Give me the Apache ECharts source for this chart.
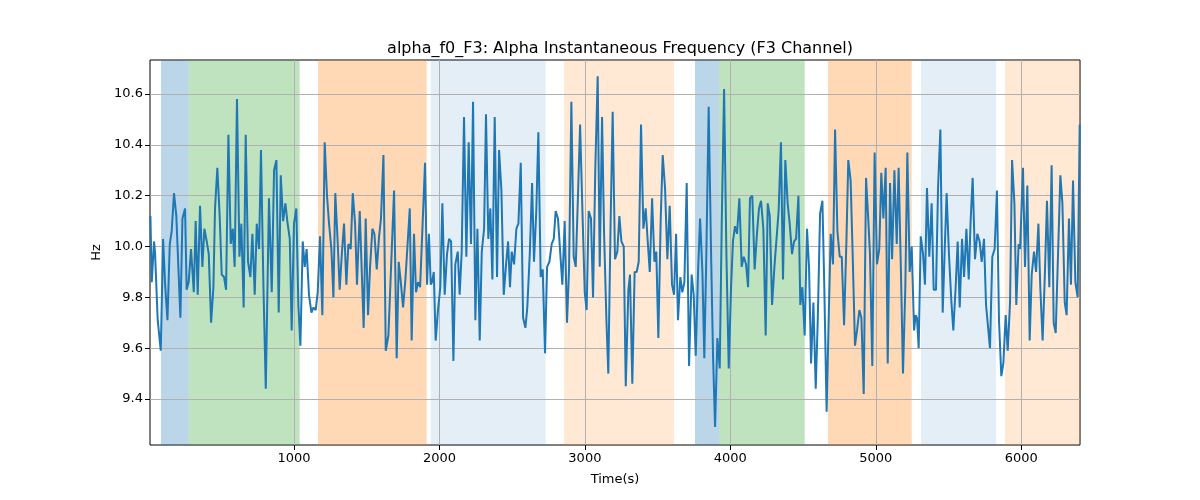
<!DOCTYPE html>
<html>
<head>
<meta charset="utf-8">
<script src="https://cdn.jsdelivr.net/npm/echarts@6/dist/echarts.min.js"></script>
<style>html,body{margin:0;padding:0;background:#fff}#c{width:1200px;height:500px}</style>
</head>
<body>
<div id="c"></div>
<script>
const titleText = 'alpha_f0_F3: Alpha Instantaneous Frequency (F3 Channel)';
const xTicks = [1000, 2000, 3000, 4000, 5000, 6000];
const yTicks = [9.4, 9.6, 9.8, 10.0, 10.2, 10.4, 10.6];

const times = [13,22,38,45,63,84,100,113,130,146,159,175,191,205,219,233,242,251,262,276,292,311,324,338,354,370,384,400,414,430,446,457,473,489,503,519,533,549,565,579,592,608,625,638,654,668,684,700,714,730,744,760,773,790,806,828,
847,863,879,895,909,925,941,954,971,984,1000,1016,1030,1044,1060,1074,1087,1103,1120,1133,1149,1163,1179,1195,1211,1227,1241,1257,1271,1284,1301,1314,1330,1344,1360,1374,1390,1404,1420,1433,1452,1466,1479,1493,1509,1523,1539,1553,1569,1585,1598,1615,1631,1649,
1688,1706,1720,1736,1750,1766,1779,1796,1809,1825,1839,1853,1867,1901,1915,1928,1940,1949,1961,1974,1990,2006,2020,2036,2052,2066,2080,2096,2109,2126,2139,2153,2169,2185,2201,2217,2231,2247,2261,2277,2291,2307,2320,2336,2350,2364,2380,2396,2410,2426,2442,2458,2472,2485,
2497,2513,2529,2543,2559,2575,2591,2604,2621,2637,2650,2666,2680,2696,2710,2726,2740,2756,2772,2786,2799,2815,2831,2845,2861,2877,2891,2907,2923,2937,2953,2967,2983,2999,3012,3026,3042,3056,3072,3088,3102,3118,3132,3148,3161,3177,3191,3207,3223,3237,3251,3267,3281,3299,3310,
3326,3342,3356,3370,3386,3402,3418,3432,3446,3462,3478,3491,3505,3521,3535,3551,3567,3583,3599,3613,3627,3640,3656,3670,3684,3700,3716,3734,3748,3762,3778,3792,3808,3821,3835,3851,3867,3881,3895,3911,3927,3941,3957,3973,3989,4005,4018,4032,4046,4062,4078,4092,4108,4122,4135,
4151,4167,4183,4197,4211,4227,4243,4257,4271,4287,4303,4316,4332,4348,4362,4378,4394,4408,4424,4438,4452,4468,4481,4495,4511,4527,4541,4555,4571,4587,4601,4617,4633,4646,4662,4676,4690,4706,4720,4736,4752,4766,4782,4798,4811,4827,4841,4857,4871,4887,4901,4917,4933,4949,4960,
4976,4992,5008,5024,5038,5052,5068,5082,5098,5112,5128,5144,5157,5173,5187,5203,5217,5233,5247,5263,5274,5283,5295,5309,5325,5338,5352,5368,5384,5398,5414,5428,5444,5460,5474,5487,5503,5520,5533,5549,5563,5577,5593,5607,5623,5639,5652,5666,5682,5698,5714,5728,5744,5758,5774,5785,
5801,5817,5833,5847,5863,5877,5893,5907,5923,5937,5953,5966,5982,5992,6012,6026,6042,6058,6072,6088,6102,6118,6131,6147,6163,6177,6193,6209,6223,6237,6253,6269,6283,6299,6312,6328,6342,6356,6372,6388,6402];

const values = [10.12,9.86,10.02,9.97,9.71,9.59,10.03,9.86,9.71,10.01,10.06,10.21,10.12,9.92,9.72,10.11,10.13,10.15,9.83,9.86,9.99,9.82,10.10,9.81,10.16,9.92,10.07,10.02,9.97,9.70,9.84,10.15,10.31,10.12,9.89,9.88,9.83,10.44,10.01,10.07,9.92,10.58,9.96,10.09,9.76,10.44,9.94,9.88,10.05,9.81,10.09,9.99,10.38,9.84,9.44,10.19,
9.82,10.30,10.34,9.74,10.28,10.10,10.17,10.10,10.03,9.67,10.09,10.15,9.77,9.61,10.02,9.92,9.99,9.81,9.74,9.76,9.75,9.82,10.04,9.73,10.41,10.20,10.09,9.99,9.80,10.21,10.01,9.83,9.98,10.09,9.85,10.01,9.99,10.21,10.09,9.85,10.14,9.90,9.68,10.11,9.73,9.92,10.07,10.05,9.91,10.04,10.11,10.36,9.59,9.65,
10.22,9.56,9.94,9.85,9.76,9.87,9.87,10.15,9.63,10.05,9.82,9.86,9.84,10.33,9.85,10.05,9.85,9.86,9.90,9.63,9.75,9.84,10.17,9.81,9.97,10.03,10.02,9.55,9.93,9.98,9.81,9.98,10.51,9.96,10.41,10.01,10.57,9.71,10.07,9.63,9.98,10.07,10.52,10.03,10.15,9.87,10.51,9.88,10.38,10.22,9.81,9.93,10.02,9.84,
9.98,9.93,10.07,10.09,10.33,9.72,9.68,9.76,9.97,10.25,9.94,10.14,10.45,9.88,9.91,9.58,9.92,9.94,10.01,10.03,10.14,10.11,9.97,9.85,10.10,9.70,9.91,10.57,9.96,9.92,10.21,10.48,10.14,9.82,9.75,10.14,10.11,9.80,10.32,10.67,9.92,10.51,10.05,9.71,9.50,10.10,10.53,9.95,9.98,10.12,10.02,10.00,9.45,9.83,9.89,
9.46,9.90,9.90,9.94,10.48,10.07,10.15,10.02,9.90,10.19,9.94,9.98,9.64,10.10,10.36,10.23,9.95,10.16,9.85,9.81,10.05,9.71,9.88,9.82,9.86,10.25,9.53,9.89,9.81,9.57,9.90,10.11,9.90,9.56,9.97,10.55,9.99,9.57,9.29,9.64,9.52,10.10,10.62,9.97,9.52,9.84,10.02,10.08,10.05,10.19,9.92,9.96,9.93,9.84,10.19,
10.20,9.91,10.05,10.15,10.18,10.07,9.65,10.17,10.12,9.77,9.92,9.92,10.14,10.41,9.87,10.34,10.17,10.09,9.97,10.02,10.03,10.20,9.77,9.84,9.65,10.07,9.92,9.54,9.78,9.44,9.71,10.13,10.18,9.84,9.35,9.71,10.05,9.93,10.46,10.06,9.96,9.96,9.69,10.02,10.34,10.26,9.97,9.61,9.67,9.75,9.72,9.42,10.27,10.10,9.97,
9.53,10.37,9.93,9.99,10.29,10.11,10.31,9.54,10.25,9.95,10.30,10.01,10.31,9.90,9.50,9.84,10.37,9.90,10.00,9.67,9.73,9.72,9.60,10.04,9.97,9.85,10.23,9.96,10.17,9.83,9.83,10.23,10.46,9.74,9.99,10.21,9.97,9.78,9.67,9.84,10.02,9.76,10.03,9.88,10.07,9.87,10.10,10.27,9.95,10.05,10.02,9.94,10.03,9.77,9.67,9.60,
9.96,9.99,10.22,9.71,9.49,9.54,9.73,9.59,9.78,10.34,10.17,9.77,10.01,9.99,10.31,9.92,10.24,9.63,9.89,9.98,9.90,10.09,9.84,9.63,9.90,10.18,9.84,10.32,9.70,9.66,9.97,10.28,10.17,9.78,9.73,10.11,9.85,10.26,9.86,9.80,10.48];

// shaded spans
const spanStart = [86, 276, 1165, 1940, 2857, 3757, 3924, 4671, 5311, 5888];
const spanEnd   = [276, 1039, 1912, 2730, 3613, 3924, 4511, 5247, 5827, 6404];
const spanKind  = ['blue','green','orange','lightblue','lightorange','blue','green','orange','lightblue','lightorange'];
const spanColors = {
  blue: 'rgba(31,119,180,0.3)',
  green: 'rgba(44,160,44,0.3)',
  orange: 'rgba(255,127,14,0.3)',
  lightblue: 'rgba(31,119,180,0.12)',
  lightorange: 'rgba(255,127,14,0.18)'
};

const lineData = times.map((t, i) => [t, values[i]]);
const areas = spanStart.map((s, i) => [
  {xAxis: s, itemStyle: {color: spanColors[spanKind[i]]}},
  {xAxis: spanEnd[i]}
]);

const font = 'DejaVu Sans';
const chart = echarts.init(document.getElementById('c'));
chart.setOption({
  animation: false,
  title: {
    text: titleText, left: 615, top: 36, textAlign: 'center',
    textStyle: {fontFamily: font, fontSize: 16, fontWeight: 'normal', color: '#000'}
  },
  grid: {left: 150, right: 120, top: 60, bottom: 55, show: true, borderColor: '#000', borderWidth: 1, backgroundColor: 'transparent'},
  xAxis: {
    type: 'value', min: 10, max: 6404, z: 2,
    name: 'Time(s)', nameLocation: 'middle', nameGap: 28,
    nameTextStyle: {fontFamily: font, fontSize: 13, color: '#000'},
    axisLine: {show: false},
    axisTick: {show: true, length: 5, inside: false, customValues: xTicks, lineStyle: {color: '#000'}},
    axisLabel: {customValues: xTicks, fontFamily: font, fontSize: 13, color: '#000', margin: 7,
      formatter: v => String(Math.round(v))},
    splitLine: {show: true, lineStyle: {color: '#b0b0b0', width: 1}}
  },
  yAxis: {
    type: 'value', min: 9.219, max: 10.734, z: 2,
    name: 'Hz', nameLocation: 'middle', nameGap: 47, nameRotate: 90,
    nameTextStyle: {fontFamily: font, fontSize: 13, color: '#000'},
    axisLine: {show: false},
    axisTick: {show: true, length: 5, inside: false, customValues: yTicks, lineStyle: {color: '#000'}},
    axisLabel: {customValues: yTicks, fontFamily: font, fontSize: 13, color: '#000', margin: 7,
      formatter: v => v.toFixed(1)},
    splitLine: {show: true, lineStyle: {color: '#b0b0b0', width: 1}}
  },
  series: [
    {
      type: 'line', data: [], z: 1, silent: true,
      markArea: {silent: true, data: areas}
    },
    {
      type: 'line', data: lineData, z: 3, showSymbol: false, symbol: 'none',
      lineStyle: {color: '#1f77b4', width: 2}, itemStyle: {color: '#1f77b4'}
    }
  ]
});
</script>
</body>
</html>
